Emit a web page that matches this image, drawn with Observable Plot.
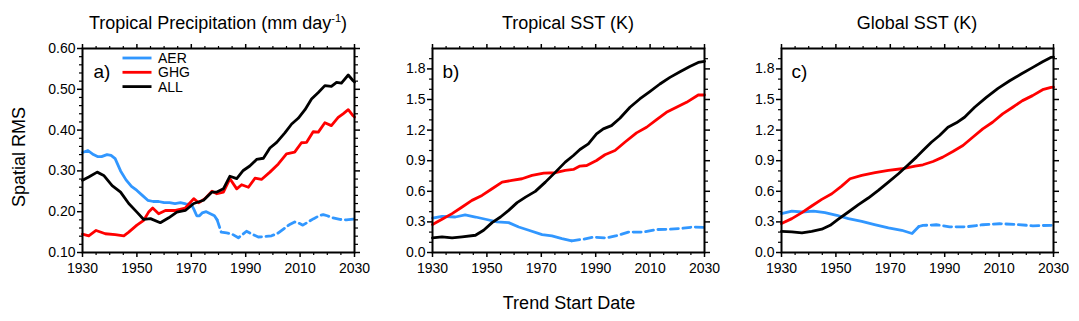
<!DOCTYPE html>
<html><head><meta charset="utf-8">
<script src="https://cdn.jsdelivr.net/npm/d3@7"></script>
<script src="https://cdn.jsdelivr.net/npm/@observablehq/plot@0.6"></script>
<style>
body{margin:0;background:#fff;}
#wrap{position:relative;width:1079px;height:321px;overflow:hidden;font-family:"Liberation Sans",Arial,Helvetica,sans-serif;}
#wrap > svg,#wrap > .p{position:absolute;top:0;}
</style></head><body><div id="wrap"></div>
<script>
// ---------- data: [trend start year, spatial RMS] ----------
const precipAERSolid = [[1930,.345],[1932,.35],[1934,.34],[1935.5,.335],[1937,.335],[1939,.34],[1940.5,.338],[1942,.33],[1944,.30],[1946,.278],[1948,.262],[1950,.252],[1952,.24],[1954,.228],[1956,.225],[1958,.225],[1960,.222],[1962,.222],[1964,.22],[1966,.222],[1968,.219],[1970,.218],[1971,.205],[1972,.19],[1973,.19],[1974,.197],[1975.5,.2],[1977,.195],[1978.5,.19],[1979.5,.18]];
const precipAERDashed = [[1979.5,.18],[1981,.15],[1983,.148],[1985,.145],[1987.3,.136],[1989,.145],[1990.3,.152],[1992,.146],[1994.6,.138],[1997,.139],[1999.5,.141],[2002,.148],[2004,.158],[2006,.168],[2008,.175],[2009.5,.172],[2011,.167],[2013,.175],[2015,.183],[2017,.19],[2018.5,.193],[2020,.19],[2022,.185],[2024.6,.181],[2027,.18],[2030,.182]];
const precipGHG = [[1930,.145],[1932.3,.141],[1935,.154],[1938.4,.146],[1942,.144],[1945.2,.141],[1947,.15],[1950,.167],[1952.5,.179],[1954.3,.199],[1955.8,.209],[1958,.195],[1960.5,.203],[1964.2,.203],[1967.8,.209],[1970.9,.232],[1972.7,.222],[1975,.232],[1977.6,.25],[1979.4,.244],[1981.8,.248],[1984.2,.281],[1986.7,.256],[1988.5,.266],[1991,.26],[1993.4,.282],[1995.8,.279],[1998.9,.297],[2002,.317],[2005,.342],[2008,.346],[2010.5,.369],[2012.4,.37],[2014.8,.396],[2016.7,.395],[2019.1,.418],[2021.5,.411],[2024,.431],[2025.8,.44],[2027.7,.45],[2029.5,.435],[2030,.432]];
const precipALL = [[1930,.277],[1932.3,.285],[1935.4,.297],[1937.8,.289],[1940.9,.264],[1944,.248],[1947,.22],[1950,.199],[1952.5,.181],[1955,.183],[1958.6,.173],[1961.7,.185],[1964.7,.199],[1967.8,.203],[1970.9,.22],[1974.5,.228],[1977.6,.248],[1979.4,.248],[1981.8,.256],[1984.2,.287],[1986.7,.281],[1989.1,.301],[1991.5,.312],[1994,.328],[1996.5,.331],[1998.9,.356],[2001.4,.37],[2004.4,.393],[2006.9,.415],[2009.3,.429],[2011.8,.45],[2014.2,.476],[2016.7,.492],[2019.1,.509],[2021.5,.507],[2023.4,.517],[2025.2,.515],[2027.7,.535],[2029.5,.521],[2030,.518]];

const tropAERSolid = [[1930,.338],[1933.5,.355],[1938.4,.348],[1942,.368],[1945.8,.348],[1949.5,.326],[1953.7,.30],[1958,.293],[1961.7,.25],[1965.4,.218],[1970.3,.176],[1973.9,.162],[1977.6,.137],[1981.2,.115]];
const tropAERDashed = [[1981.2,.115],[1985.5,.13],[1989.1,.15],[1994,.143],[1997.7,.165],[2002,.2],[2007.5,.2],[2012.4,.225],[2017.3,.228],[2022.2,.238],[2025.8,.25],[2030,.245]];
const tropGHG = [[1930,.274],[1933.5,.326],[1937.2,.381],[1940.9,.446],[1944.5,.511],[1948.2,.56],[1951.9,.625],[1955.6,.69],[1959.2,.707],[1962.9,.723],[1966.6,.756],[1970.9,.778],[1975.2,.782],[1978.8,.805],[1981.8,.814],[1984.2,.847],[1986.7,.853],[1990.3,.902],[1993.4,.958],[1997.1,1.0],[2000.7,1.081],[2005,1.173],[2008.7,1.228],[2012.4,1.303],[2016,1.374],[2019.7,1.424],[2023.4,1.472],[2027.7,1.544],[2030,1.544]];
const tropALL = [[1930,.143],[1933.5,.153],[1937.2,.143],[1940.9,.153],[1945.8,.169],[1948.8,.218],[1951.9,.293],[1955,.348],[1958,.413],[1961.1,.489],[1964.2,.543],[1967.8,.599],[1971.5,.69],[1975.2,.788],[1978.8,.886],[1981.8,.951],[1984.2,1.01],[1987.3,1.065],[1990.3,1.163],[1992.8,1.212],[1995.8,1.244],[1998.9,1.316],[2002.6,1.424],[2006.2,1.505],[2009.9,1.577],[2013.6,1.652],[2017.3,1.717],[2021,1.772],[2024.6,1.824],[2027.7,1.863],[2030,1.873]];

const globAERSolid = [[1930,.381],[1933.8,.405],[1937.5,.397],[1941.8,.405],[1946,.391],[1950.3,.365],[1954.6,.332],[1959.5,.306],[1964.2,.274],[1969.3,.241],[1974.2,.218],[1978,.186],[1980.5,.255]];
const globAERDashed = [[1980.5,.255],[1982,.265],[1986.9,.272],[1991.8,.252],[1997.9,.252],[2004,.272],[2010.2,.282],[2016.2,.275],[2022.4,.262],[2030,.267]];
const globGHG = [[1930,.284],[1933.8,.332],[1937.5,.391],[1941.1,.456],[1944.8,.521],[1948.5,.576],[1952.1,.651],[1955.2,.723],[1959.5,.756],[1964.4,.782],[1969.3,.805],[1974.2,.821],[1979.1,.847],[1982,.86],[1985.7,.892],[1989.3,.935],[1993,.99],[1996.7,1.049],[2000.3,1.13],[2004,1.212],[2007.6,1.277],[2011.3,1.359],[2015,1.424],[2018.6,1.489],[2022.3,1.538],[2026,1.596],[2029.1,1.619],[2030,1.62]];
const globALL = [[1930,.208],[1933.8,.202],[1937.5,.192],[1941.1,.208],[1944.8,.228],[1947.9,.267],[1950.9,.326],[1954.6,.397],[1958.3,.469],[1961.9,.534],[1965.6,.609],[1969.3,.69],[1973,.772],[1976.6,.86],[1979.6,.935],[1982,1.0],[1985.1,1.081],[1988.1,1.147],[1991.2,1.228],[1994.3,1.271],[1997.3,1.326],[2001,1.424],[2005.3,1.521],[2009.6,1.609],[2013.9,1.684],[2018.1,1.75],[2022.4,1.815],[2026,1.87],[2029,1.912],[2030,1.915]];

const xMajor = [1930,1950,1970,1990,2010,2030];
const xMinor = [1935,1940,1945,1955,1960,1965,1975,1980,1985,1995,2000,2005,2015,2020,2025];
const precipYTicks = [0.10,0.20,0.30,0.40,0.50,0.60];
const precipYMinor = [0.12,0.14,0.16,0.18,0.22,0.24,0.26,0.28,0.32,0.34,0.36,0.38,0.42,0.44,0.46,0.48,0.52,0.54,0.56,0.58];
const sstYTicks = [0.0,0.3,0.6,0.9,1.2,1.5,1.8];
const sstYMinor = [0.1,0.2,0.4,0.5,0.7,0.8,1.0,1.1,1.3,1.4,1.6,1.7,1.9];

const titles = ["Tropical Precipitation (mm day", "Tropical SST (K)", "Global SST (K)"];
const panelLetters = ["a)", "b)", "c)"];
const seriesNames = ["AER", "GHG", "ALL"];
const colors = {AER: "#3197ff", GHG: "#ff0000", ALL: "#000000"};

// ---------- drawing ----------
const wrap = document.getElementById("wrap");
const font = '"Liberation Sans", Arial, Helvetica, sans-serif';
const H = 290, MT = 48, MB = 38;

const panels = [
  {left: 0, width: 370, ml: 82, mr: 16, ydom: [0.1, 0.6], yt: precipYTicks, ym: precipYMinor, fmt: d3.format(".2f"), letter: panelLetters[0], dx: 11, aerS: precipAERSolid, aerD: precipAERDashed, ghg: precipGHG, all: precipALL},
  {left: 360, width: 360, ml: 72, mr: 16, ydom: [0, 2.0], yt: sstYTicks, ym: sstYMinor, fmt: d3.format(".1f"), letter: panelLetters[1], dx: 10, aerS: tropAERSolid, aerD: tropAERDashed, ghg: tropGHG, all: tropALL},
  {left: 720, width: 359, ml: 61, mr: 26, ydom: [0, 2.0], yt: sstYTicks, ym: sstYMinor, fmt: d3.format(".1f"), letter: panelLetters[2], dx: 10, aerS: globAERSolid, aerD: globAERDashed, ghg: globGHG, all: globALL}
];

const blank = () => "";
panels.forEach(p => {
  const lw = 2.8;
  const chart = Plot.plot({
    width: p.width, height: H,
    marginTop: MT, marginBottom: MB, marginLeft: p.ml, marginRight: p.mr,
    style: {fontFamily: font, fontSize: "14px", background: "transparent", overflow: "visible"},
    x: {domain: [1930, 2030]},
    y: {domain: p.ydom},
    marks: [
      Plot.line(p.aerS, {x: d => d[0], y: d => d[1], stroke: colors.AER, strokeWidth: lw, strokeLinejoin: "round"}),
      Plot.line(p.aerD, {x: d => d[0], y: d => d[1], stroke: colors.AER, strokeWidth: lw, strokeDasharray: "8,4.5", strokeLinejoin: "round"}),
      Plot.line(p.ghg, {x: d => d[0], y: d => d[1], stroke: colors.GHG, strokeWidth: lw, strokeLinejoin: "round"}),
      Plot.line(p.all, {x: d => d[0], y: d => d[1], stroke: colors.ALL, strokeWidth: lw, strokeLinejoin: "round"}),
      Plot.axisX({anchor: "bottom", ticks: xMajor, tickSize: 5, tickPadding: 6, tickFormat: d3.format("d"), fontSize: 14, label: null, strokeWidth: 1.5, fill: "#000"}),
      Plot.axisX({anchor: "bottom", ticks: xMinor, tickSize: 3, tickFormat: blank, label: null, strokeWidth: 1.2}),
      Plot.axisX({anchor: "top", ticks: xMajor, tickSize: 5, tickFormat: blank, label: null, strokeWidth: 1.5}),
      Plot.axisX({anchor: "top", ticks: xMinor, tickSize: 3, tickFormat: blank, label: null, strokeWidth: 1.2}),
      Plot.axisY({anchor: "left", ticks: p.yt, tickSize: 5, tickPadding: 2, tickFormat: p.fmt, fontSize: 14, label: null, strokeWidth: 1.5, fill: "#000"}),
      Plot.axisY({anchor: "left", ticks: p.ym, tickSize: 3, tickFormat: blank, label: null, strokeWidth: 1.2}),
      Plot.axisY({anchor: "right", ticks: p.yt, tickSize: 5, tickFormat: blank, label: null, strokeWidth: 1.5}),
      Plot.axisY({anchor: "right", ticks: p.ym, tickSize: 3, tickFormat: blank, label: null, strokeWidth: 1.2}),
      Plot.frame({stroke: "#000", strokeWidth: 2}),
      Plot.text([p.letter], {frameAnchor: "top-left", dx: p.dx, dy: 16, textAnchor: "start", lineAnchor: "top", fontSize: 19, fill: "#000"})
    ]
  });
  chart.classList.add("p");
  chart.style.left = p.left + "px";
  chart.style.position = "absolute";
  chart.style.top = "0px";
  wrap.appendChild(chart);
});

// overlay: titles, axis titles, legend
const ov = d3.select(wrap).append("svg")
  .attr("width", 1079).attr("height", 321)
  .style("position", "absolute").style("left", "0px").style("top", "0px")
  .style("pointer-events", "none")
  .attr("font-family", font).attr("fill", "#000");

const t0 = ov.append("text").attr("x", 218).attr("y", 28.5).attr("text-anchor", "middle").attr("font-size", 18);
t0.append("tspan").text(titles[0]);
t0.append("tspan").attr("font-size", 11).attr("dy", -7).text("-1");
t0.append("tspan").attr("dy", 7).text(")");
ov.append("text").attr("x", 568).attr("y", 28.5).attr("text-anchor", "middle").attr("font-size", 18).text(titles[1]);
ov.append("text").attr("x", 917).attr("y", 28.5).attr("text-anchor", "middle").attr("font-size", 18).text(titles[2]);
ov.append("text").attr("x", 569).attr("y", 309).attr("text-anchor", "middle").attr("font-size", 18).text("Trend Start Date");
ov.append("text").attr("transform", "translate(25,157) rotate(-90)").attr("text-anchor", "middle").attr("font-size", 18).text("Spatial RMS");

seriesNames.forEach((name, i) => {
  const y = 58 + i * 14.3;
  ov.append("line").attr("x1", 122.5).attr("x2", 151.5).attr("y1", y).attr("y2", y)
    .attr("stroke", colors[name]).attr("stroke-width", 2.8);
  ov.append("text").attr("x", 158).attr("y", y + 5).attr("font-size", 14).text(name);
});
</script></body></html>
